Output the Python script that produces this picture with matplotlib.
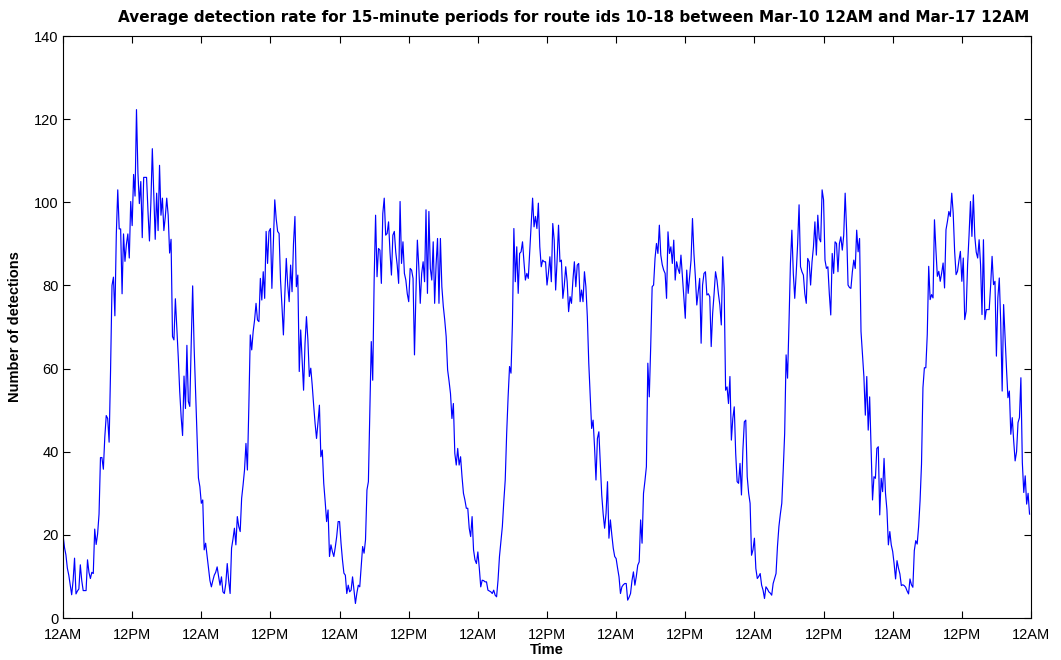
import numpy as np
import matplotlib
matplotlib.use("Agg")
import matplotlib.pyplot as plt

# detections per 15-minute period, one list per day (96 periods each)
mar10 = [20, 17, 15.2, 12, 10.3, 8, 5.6, 9, 14.4, 5.8, 6.5, 7, 12.8, 9, 6.6, 6.6,
         6.6, 14, 11, 9.5, 11, 10.7, 21.4, 17.7, 20.2, 25, 38.6, 38.6, 35.8, 43.5, 48.7, 48,
         42.3, 59.5, 80, 82, 72.7, 92.4, 103, 93.6, 93.6, 78, 92.4, 85.8, 89.9, 92.4, 86.6, 100.2,
         94.4, 106.7, 101.5, 122.3, 107.1, 99.7, 105, 91.5, 106, 106, 106, 97.7, 90.7, 100, 112.9, 102.2,
         91.1, 102.2, 93.2, 108.9, 96.9, 101, 93.2, 96.5, 101, 96.9, 87.8, 91.1, 67.7, 66.9, 76.8, 70,
         62.8, 54.6, 48.4, 43.9, 58.2, 50.4, 65.6, 52.1, 50.9, 66.1, 79.9, 65.3, 55, 44.8, 33.7, 31.6]
mar11 = [27.6, 28.4, 16.4, 18, 15, 12, 9, 7.5, 9, 10.3, 11, 12.3, 10, 7.9, 9.9, 6.3,
         5.9, 8.3, 13.1, 9, 5.9, 16.8, 19, 21.6, 17.6, 24.4, 22, 20.8, 28.8, 32, 35.6, 42,
         35.6, 50.8, 68.1, 64.5, 68.9, 71.7, 75.7, 71.7, 71.3, 81.7, 76.5, 83.3, 76.9, 93, 85.3, 93,
         93.7, 79.3, 90, 100.6, 96, 93, 92.5, 81.3, 75, 68.1, 78, 86.5, 80, 76.1, 84.9, 78.5,
         90, 96.6, 79.7, 82.5, 59.3, 69.3, 62, 54.8, 66, 72.5, 66.9, 58.1, 60.1, 56, 51.2, 46.8,
         43.2, 47, 51.2, 38.8, 40.4, 32.4, 28, 23.2, 26, 14.8, 17.6, 16, 14.8, 17, 19.6, 23.2]
mar12 = [23.2, 18, 14, 10.8, 10.3, 5.9, 7.9, 6.3, 6.7, 9.9, 6.7, 3.5, 6, 7.9, 7.5, 12.3,
         17.2, 15.6, 18.8, 30.8, 32.8, 49.2, 66.5, 57.2, 81.3, 96.9, 82.1, 88.9, 88.5, 80.5, 97.3, 101,
         92.1, 92.5, 95.3, 88, 82.5, 92.1, 93, 88, 84.9, 80.5, 100.2, 85.3, 90.5, 82.9, 81.3, 78,
         76.1, 84.1, 83.7, 81.7, 63.3, 78.1, 90.9, 84.5, 75.7, 82.9, 85.7, 80.9, 98.2, 78.1, 97.8, 84.1,
         81.3, 90.5, 75.7, 85, 91.3, 75.7, 91.3, 79.7, 75, 71.7, 67.7, 59.7, 57, 54, 48, 51.6,
         39.6, 36.8, 40.8, 36.8, 38.8, 34, 30, 28.4, 26.4, 26.4, 21.6, 19.6, 24.4, 16.4, 14, 13.1]
mar13 = [15.9, 12, 7.5, 9.1, 9, 8.7, 8.7, 6.7, 6.5, 6.3, 5.9, 6.7, 5.5, 5.1, 9.1, 14.8,
         18.4, 22, 28, 33.2, 44.4, 53.2, 60.5, 58.9, 70.9, 93.7, 80.9, 89.3, 78.1, 87.7, 88.1, 90.5,
         85.7, 81.3, 82.9, 81.7, 88, 94.1, 101, 94.1, 96.6, 93.7, 99.8, 89.3, 84.5, 86.1, 85.7, 85.7,
         80.1, 83, 86.9, 80.9, 94.9, 90.9, 78.9, 86, 94.5, 85.7, 86.1, 76.9, 80, 84.5, 80.9, 73.7,
         77.3, 75.7, 81.3, 85.7, 79.7, 84.9, 85.3, 76.1, 78.9, 76.1, 83.3, 79.7, 72.5, 61.3, 53.2, 45.6,
         47.6, 41.2, 33.2, 43.2, 44.8, 37.2, 29.6, 25, 21.6, 25.2, 32.8, 19.2, 23.6, 20, 16.8, 14.8]
mar14 = [14.3, 12, 9.9, 5.9, 7.5, 8, 8.3, 8.3, 4.3, 5, 5.9, 9, 11.1, 7.9, 10, 12.7,
         13.5, 23.6, 18, 30, 33, 36.4, 61.3, 53.2, 65.3, 79.7, 80.1, 86.5, 90.1, 87.7, 94.5, 87.3,
         85, 83.7, 82.9, 76.9, 92.9, 87.7, 89.3, 85.3, 90.9, 81.3, 85.7, 84, 82.9, 87.3, 82.1, 77.3,
         72.1, 83.7, 78.1, 82, 86.1, 96.1, 87.7, 82.1, 75.3, 78.5, 81.7, 66.1, 80.1, 82.9, 83.3, 77.7,
         78, 77.3, 65.3, 73.3, 78, 83.3, 81.3, 78, 75.3, 70.5, 86.9, 79.3, 54.8, 55.6, 51.6, 58.1,
         42.8, 48, 50.8, 39.6, 32.8, 32.4, 37.2, 29.6, 40.4, 47.2, 47.6, 34, 30, 27.6, 15.1, 16.4]
mar15 = [19.2, 11.9, 9.5, 10, 10.7, 7.9, 6.7, 4.7, 7.5, 7, 6.3, 6, 5.5, 8.3, 9.5, 10.7,
         17.2, 22, 25, 27.6, 35.6, 44.4, 63.3, 57.7, 70.9, 85.3, 93.3, 82.9, 76.9, 82.9, 90, 99.4,
         84.5, 83.3, 82.5, 78, 75.7, 86.5, 85.7, 80.1, 85.7, 89.3, 95.3, 87.3, 96.9, 91.3, 90.5, 103,
         100.6, 86.1, 84.1, 84.5, 78, 72.9, 87.7, 82.9, 90.5, 90.1, 83.3, 90.1, 91.7, 88.5, 92.1, 102.2,
         93.3, 80.1, 79.5, 79.3, 83.3, 86.1, 84.1, 93.3, 88.1, 91.3, 68.9, 63.7, 58.1, 48.8, 58.1, 45.2,
         53.2, 40.4, 28.4, 34, 33.6, 40.8, 41.2, 24.8, 33.6, 30.4, 38.4, 30, 26, 17.6, 20.8, 17.6]
mar16 = [16, 13, 9.4, 13.8, 12, 10.6, 7.8, 8, 7.8, 7.4, 6.5, 5.8, 9.4, 8, 7.4, 16.2,
         18.6, 17.8, 22, 28.2, 37, 55.4, 60.2, 60.2, 68.2, 84.6, 76.6, 77.8, 77, 95.8, 88.6, 82.2,
         83.4, 81, 83, 85.4, 79.4, 93.4, 95.4, 97.8, 96.6, 102.2, 97.4, 88.2, 82.6, 83.4, 86, 88.2,
         81, 86.6, 71.8, 73.8, 85, 92, 100.2, 91.8, 101.8, 91.8, 88, 86.6, 91, 85, 73, 91,
         71.8, 74.2, 74.2, 74.2, 80, 87, 80.2, 81, 63, 77, 81.8, 71, 54.6, 75.4, 67.4, 60,
         53, 54.6, 44.2, 48.2, 42.6, 37.8, 40, 47, 48.2, 57.8, 37.4, 30.2, 34.2, 27.4, 30, 25]

tick_labels = ["12AM", "12PM"] * 7 + ["12AM"]

days = [mar10, mar11, mar12, mar13, mar14, mar15, mar16]
counts = np.concatenate(days)
t = np.arange(len(counts)) / 96.0  # in days

plt.rcParams['font.family'] = ['Liberation Sans', 'DejaVu Sans']

fig = plt.figure(figsize=(10.61, 6.6), dpi=100)
ax = fig.add_axes([0.0594, 0.0636, 0.9123, 0.8818])
ax.plot(t, counts, color=(0, 0, 1), linewidth=0.85)

ax.set_xlim(0, 7)
ax.set_ylim(0, 140)
ax.set_xticks(np.arange(0, 7.01, 0.5))
ax.set_xticklabels(tick_labels)
ax.set_yticks(np.arange(0, 141, 20))
ax.tick_params(direction='in', top=True, right=True, length=5, width=0.8,
               labelsize=10.5)
ax.tick_params(axis='x', pad=7)
ax.tick_params(axis='y', pad=3)
for s in ax.spines.values():
    s.set_linewidth(0.8)

ax.set_title("Average detection rate for 15-minute periods for route ids 10-18 "
             "between Mar-10 12AM and Mar-17 12AM",
             fontsize=11, fontweight='bold', family='DejaVu Sans', pad=10,
             x=0.527)
ax.set_xlabel("Time", fontsize=10.5, fontweight='bold', labelpad=1)
ax.set_ylabel("Number of detections", fontsize=10.5, fontweight='bold', labelpad=9)

fig.savefig("out.png", dpi=100)
